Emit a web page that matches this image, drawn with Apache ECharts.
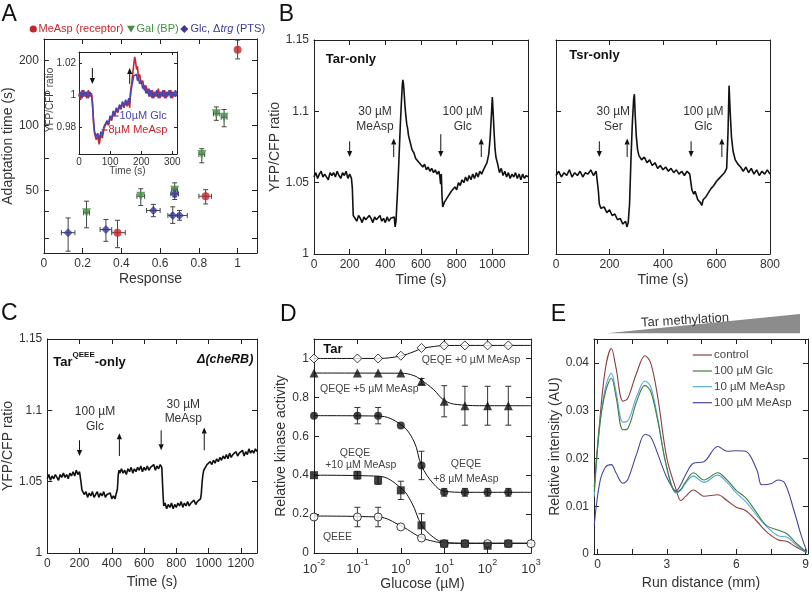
<!DOCTYPE html>
<html><head><meta charset="utf-8">
<script src="https://cdn.jsdelivr.net/npm/echarts@6.0.0/dist/echarts.min.js"></script>
<style>html,body{margin:0;padding:0;background:#fff}#c{width:812px;height:592px}</style>
</head><body><div id="c"></div><script>
// ---------------- Panel A : adaptation time vs response ----------------
const aRespTicks = [0, 0.2, 0.4, 0.6, 0.8, 1];
const aTimeTicks = [30, 40, 50, 70.7, 100, 141.4, 200];
const aTimeLabels = [50, 100, 200];

const aMeAspResp   = [1.0, 0.835, 0.38];
const aMeAspRespLo = [1.0, 0.80, 0.35];
const aMeAspRespHi = [1.0, 0.865, 0.42];
const aMeAspTime   = [224, 46.9, 31.8];
const aMeAspTimeLo = [203, 43.2, 27.1];
const aMeAspTimeHi = [248, 50.3, 36.3];

const aGalResp   = [0.22, 0.50, 0.675, 0.815, 0.89, 0.93];
const aGalRespLo = [0.205, 0.48, 0.66, 0.80, 0.875, 0.915];
const aGalRespHi = [0.235, 0.52, 0.69, 0.83, 0.905, 0.945];
const aGalTime   = [39.3, 46.9, 50.0, 73.2, 113, 108.9];
const aGalTimeLo = [33.5, 42.5, 46.6, 67, 105.4, 98.4];
const aGalTimeHi = [44.5, 50.8, 54.1, 77.9, 121.6, 118.3];

const aGlcResp   = [0.125, 0.32, 0.565, 0.675, 0.665, 0.70];
const aGlcRespLo = [0.09, 0.29, 0.53, 0.655, 0.64, 0.66];
const aGlcRespHi = [0.16, 0.35, 0.60, 0.695, 0.69, 0.74];
const aGlcTime   = [31.8, 32.9, 40.3, 48.1, 38.2, 38.2];
const aGlcTimeLo = [26.1, 29.0, 37.7, 45.3, 35.1, 36.3];
const aGlcTimeHi = [37.2, 36.6, 43.0, 50.8, 41.9, 40.3];

// inset traces
const insetTime = [0,5,10,15,20,25,30,35,40,43,47,50,55,60,65,70,75,80,85,90,95,100,105,110,115,120,125,130,135,140,145,150,155,160,163,166,170,173,176,179,182,185,188,191,195,200,205,210,215,220,225,230,235,240,245,250,255,260,265,270,275,280,285,290,295,300,305,310,315];
const insetMeAsp = [1.001,0.997,1.003,0.999,1.002,0.998,1.003,0.999,1.001,0.996,0.982,0.976,0.972,0.974,0.969,0.975,0.973,0.979,0.978,0.983,0.981,0.986,0.984,0.989,0.987,0.991,0.989,0.993,0.991,0.995,0.992,0.996,0.993,0.997,0.992,1.003,1.008,1.014,1.019,1.024,1.021,1.016,1.018,1.011,1.013,1.007,1.009,1.003,1.006,1.001,1.004,0.999,1.003,0.998,1.002,0.999,1.004,0.998,1.002,0.999,1.003,0.998,1.002,1.000,1.003,0.998,1.002,0.999,1.001];
const insetGlc = [0.999,1.002,0.998,1.003,0.999,1.002,0.998,1.002,1.000,0.995,0.983,0.977,0.974,0.976,0.972,0.977,0.975,0.980,0.979,0.984,0.982,0.987,0.985,0.990,0.988,0.992,0.990,0.994,0.992,0.996,0.993,0.997,0.994,0.998,0.995,1.001,1.006,1.009,1.012,1.013,1.011,1.013,1.009,1.011,1.007,1.009,1.004,1.006,1.001,1.004,0.999,1.003,0.998,1.002,0.999,1.003,0.998,1.002,0.999,1.003,0.998,1.002,0.999,1.003,0.998,1.002,0.999,1.003,1.000];

// ---------------- Panel B : Tar-only / Tsr-only traces ----------------
const tarOnly = [[0,1.054],[10,1.057],[20,1.053],[30,1.056],[40,1.058],[50,1.054],[60,1.056],[70,1.055],[80,1.052],[90,1.057],[100,1.055],[110,1.057],[120,1.054],[130,1.058],[140,1.055],[150,1.053],[160,1.057],[170,1.055],[180,1.058],[190,1.053],[200,1.056],[210,1.053],[215,1.046],[220,1.027],[230,1.026],[240,1.023],[250,1.027],[260,1.025],[270,1.022],[280,1.026],[290,1.024],[300,1.023],[310,1.027],[320,1.025],[330,1.022],[340,1.026],[350,1.024],[360,1.025],[370,1.027],[380,1.023],[390,1.025],[400,1.022],[410,1.026],[420,1.023],[430,1.025],[440,1.024],[450,1.026],[455,1.019],[460,1.023],[465,1.036],[470,1.048],[475,1.062],[480,1.078],[485,1.093],[490,1.106],[495,1.118],[498,1.122],[502,1.119],[506,1.112],[510,1.104],[515,1.097],[520,1.091],[525,1.088],[530,1.083],[540,1.078],[550,1.073],[560,1.071],[570,1.067],[580,1.068],[590,1.064],[600,1.065],[610,1.061],[620,1.063],[630,1.059],[640,1.061],[650,1.058],[660,1.060],[670,1.057],[680,1.059],[690,1.056],[700,1.058],[705,1.055],[710,1.049],[714,1.056],[718,1.040],[722,1.033],[730,1.036],[740,1.035],[750,1.040],[760,1.039],[770,1.044],[780,1.043],[790,1.047],[800,1.045],[810,1.050],[820,1.048],[830,1.052],[840,1.050],[850,1.054],[860,1.051],[870,1.055],[880,1.052],[890,1.056],[900,1.053],[910,1.057],[920,1.054],[930,1.058],[940,1.056],[950,1.059],[960,1.060],[970,1.064],[980,1.070],[988,1.082],[995,1.098],[1000,1.110],[1005,1.098],[1010,1.085],[1015,1.074],[1020,1.068],[1030,1.063],[1040,1.057],[1050,1.060],[1060,1.055],[1070,1.058],[1080,1.054],[1090,1.057],[1100,1.053],[1110,1.056],[1120,1.054],[1130,1.057],[1140,1.053],[1150,1.056],[1160,1.052],[1170,1.056],[1180,1.053],[1190,1.055],[1200,1.054]];
const tsrOnly = [[0,1.055],[10,1.058],[20,1.054],[30,1.057],[40,1.055],[50,1.059],[60,1.054],[70,1.057],[80,1.055],[90,1.058],[100,1.054],[110,1.057],[120,1.056],[130,1.059],[140,1.055],[150,1.058],[155,1.059],[158,1.045],[162,1.035],[168,1.032],[175,1.031],[180,1.033],[190,1.029],[200,1.031],[210,1.027],[220,1.028],[230,1.024],[240,1.025],[250,1.021],[260,1.023],[265,1.019],[270,1.022],[275,1.035],[280,1.065],[285,1.090],[290,1.108],[293,1.112],[296,1.098],[300,1.083],[305,1.073],[310,1.069],[320,1.066],[330,1.068],[340,1.064],[350,1.066],[360,1.062],[370,1.064],[380,1.060],[390,1.062],[400,1.059],[410,1.061],[420,1.058],[430,1.060],[440,1.057],[450,1.059],[460,1.056],[470,1.058],[480,1.055],[490,1.058],[500,1.056],[505,1.057],[508,1.045],[515,1.042],[520,1.044],[530,1.038],[540,1.036],[545,1.034],[550,1.038],[560,1.040],[570,1.043],[580,1.046],[590,1.048],[600,1.051],[610,1.053],[620,1.055],[630,1.057],[638,1.060],[643,1.085],[647,1.118],[651,1.100],[656,1.082],[662,1.072],[670,1.066],[680,1.063],[690,1.061],[700,1.058],[710,1.061],[720,1.057],[730,1.060],[740,1.056],[750,1.059],[760,1.055],[770,1.058],[780,1.056],[790,1.059],[800,1.056]];
// stimulus arrows: [time, ratio at tail, ratio at head]
const tarArrows = [[200,1.079,1.068],[447,1.068,1.081],[711,1.084,1.068],[938,1.068,1.081]];
const tsrArrows = [[162,1.079,1.068],[266,1.068,1.081],[505,1.079,1.068],[620,1.068,1.081]];

// ---------------- Panel C : Tar(QEEE)-only in cheRB ----------------
const tarQEEE = [[0,1.052],[10,1.055],[20,1.051],[30,1.054],[40,1.052],[50,1.055],[60,1.053],[70,1.051],[80,1.055],[90,1.053],[100,1.056],[110,1.053],[120,1.055],[130,1.052],[140,1.056],[150,1.054],[160,1.057],[170,1.054],[180,1.058],[190,1.055],[200,1.057],[205,1.056],[210,1.049],[215,1.044],[220,1.045],[230,1.041],[240,1.043],[250,1.039],[260,1.042],[270,1.040],[280,1.043],[290,1.039],[300,1.041],[310,1.043],[320,1.039],[330,1.042],[340,1.040],[350,1.043],[360,1.039],[370,1.041],[380,1.040],[390,1.042],[400,1.038],[410,1.040],[420,1.038],[430,1.039],[435,1.045],[440,1.055],[445,1.058],[450,1.056],[460,1.059],[470,1.056],[480,1.058],[490,1.055],[500,1.059],[510,1.057],[520,1.060],[530,1.056],[540,1.059],[550,1.057],[560,1.060],[570,1.058],[580,1.061],[590,1.057],[600,1.060],[610,1.058],[620,1.061],[630,1.058],[640,1.060],[650,1.059],[660,1.062],[670,1.058],[680,1.061],[690,1.059],[700,1.062],[710,1.060],[715,1.061],[718,1.040],[722,1.033],[730,1.035],[740,1.031],[750,1.034],[760,1.032],[770,1.035],[780,1.031],[790,1.034],[800,1.032],[810,1.035],[820,1.033],[830,1.036],[840,1.032],[850,1.035],[860,1.033],[870,1.036],[880,1.033],[890,1.035],[900,1.034],[910,1.037],[920,1.034],[930,1.036],[940,1.035],[950,1.038],[955,1.042],[960,1.050],[965,1.055],[970,1.058],[980,1.060],[990,1.062],[1000,1.061],[1010,1.064],[1020,1.062],[1030,1.065],[1040,1.063],[1050,1.066],[1060,1.064],[1070,1.067],[1080,1.065],[1090,1.068],[1100,1.066],[1110,1.069],[1120,1.066],[1130,1.070],[1140,1.067],[1150,1.069],[1160,1.068],[1170,1.071],[1180,1.068],[1190,1.070],[1200,1.069],[1210,1.072],[1220,1.068],[1230,1.071],[1240,1.069],[1250,1.073],[1260,1.070],[1270,1.072],[1280,1.070],[1290,1.073],[1300,1.071]];
const cArrows = [[200,1.079,1.068],[447,1.068,1.084],[706,1.086,1.072],[973,1.072,1.088]];

// ---------------- Panel D : dose response ----------------
const glucose = [0.01, 0.1, 0.3, 1, 3, 10, 30, 100, 300];
const glucoseQEEE = [0.01, 0.1, 0.3, 1, 3, 10, 30, 100, 300, 1000];
const dTar0 = [1.0, 1.0, 1.0, 1.014, 1.054, 1.067, 1.067, 1.067, 1.067];
const dQEQE5 = [0.925, 0.925, 0.925, 0.925, 0.882, 0.78, 0.757, 0.757, 0.757];
const dQEQE5Err = [0, 0, 0, 0, 0.015, 0.08, 0.1, 0.1, 0.1];
const dQEQE8 = [0.706, 0.706, 0.706, 0.656, 0.45, 0.312, 0.312, 0.312, 0.312];
const dQEQE8Err = [0, 0.042, 0.042, 0, 0.073, 0.02, 0.02, 0.02, 0.02];
const dQEQE10 = [0.40, 0.40, 0.373, 0.322, 0.142, 0.048, 0.048, 0.037, 0.048];
const dQEQE10Err = [0, 0.02, 0.02, 0.047, 0.06, 0, 0, 0, 0];
const dQEEE = [0.185, 0.185, 0.185, 0.134, 0.077, 0.048, 0.048, 0.048, 0.048, 0.048];
const dQEEEErr = [0, 0.05, 0.05, 0, 0, 0, 0, 0, 0, 0];
// fitted curves
const dFitTar0 = [[0.01,1.0],[0.3,1.0],[1,1.013],[2,1.035],[3,1.05],[6,1.062],[10,1.066],[30,1.067],[1000,1.067]];
const dFit5 = [[0.01,0.925],[1,0.924],[2,0.912],[3,0.888],[5.7,0.84],[10,0.785],[20,0.763],[100,0.757],[1000,0.757]];
const dFit8 = [[0.01,0.706],[0.3,0.704],[1,0.66],[2,0.575],[3,0.45],[5.7,0.355],[10,0.318],[30,0.312],[1000,0.312]];
const dFit10 = [[0.01,0.40],[0.3,0.395],[1,0.335],[1.8,0.257],[3,0.145],[5.7,0.08],[10,0.055],[30,0.05],[1000,0.05]];
const dFitQEEE = [[0.01,0.19],[0.3,0.185],[1,0.14],[2,0.1],[3,0.078],[5.7,0.06],[10,0.052],[30,0.05],[1000,0.05]];

// ---------------- Panel E : methylation profiles ----------------
const eControl = [[-0.14,0.014],[0.1,0.028],[0.35,0.039],[0.6,0.043],[0.8,0.039],[1.1,0.032],[1.3,0.0325],[1.7,0.038],[2.05,0.0415],[2.3,0.040],[2.6,0.033],[3.0,0.020],[3.4,0.0135],[3.6,0.0112],[3.8,0.012],[4.15,0.0134],[4.6,0.0121],[5.2,0.0124],[5.6,0.0112],[6.0,0.0098],[6.4,0.0091],[6.9,0.0068],[7.3,0.0047],[7.8,0.003],[8.2,0.0026],[8.6,0.0014],[9.05,0.0003]];
const eGlc100 = [[-0.14,0.013],[0.1,0.027],[0.35,0.034],[0.6,0.0368],[0.8,0.033],[1.1,0.026],[1.3,0.0262],[1.7,0.032],[2.05,0.0353],[2.3,0.034],[2.6,0.028],[3.0,0.018],[3.4,0.013],[3.6,0.0135],[3.8,0.015],[4.15,0.017],[4.6,0.0155],[5.2,0.017],[5.6,0.0155],[6.0,0.0133],[6.4,0.0118],[6.9,0.0085],[7.3,0.006],[7.8,0.005],[8.2,0.0042],[8.6,0.0022],[9.05,0.0004]];
const eMeAsp10 = [[-0.14,0.012],[0.1,0.027],[0.35,0.035],[0.6,0.0378],[0.8,0.034],[1.1,0.0276],[1.3,0.0278],[1.7,0.033],[2.05,0.0362],[2.3,0.035],[2.6,0.0285],[3.0,0.018],[3.4,0.0128],[3.6,0.0133],[3.8,0.0148],[4.15,0.0163],[4.6,0.015],[5.2,0.0165],[5.6,0.015],[6.0,0.0128],[6.4,0.011],[6.9,0.008],[7.3,0.0058],[7.8,0.0038],[8.2,0.0035],[8.6,0.0018],[9.05,0.0003]];
const eMeAsp100 = [[-0.14,0.006],[0.1,0.015],[0.35,0.0182],[0.6,0.0187],[0.8,0.017],[1.1,0.0148],[1.3,0.0155],[1.7,0.021],[2.05,0.025],[2.3,0.0245],[2.6,0.021],[3.0,0.016],[3.4,0.0132],[3.6,0.0145],[3.8,0.0165],[4.15,0.019],[4.6,0.0193],[5.2,0.0225],[5.6,0.0215],[6.0,0.0216],[6.4,0.0215],[6.9,0.0175],[7.1,0.0145],[7.5,0.0147],[7.8,0.0155],[8.1,0.0148],[8.5,0.009],[8.8,0.004],[9.05,0.0005]];

// ======================= build =======================
const FONT = '"Liberation Sans", Arial, sans-serif';
const RED = '#c3262c', GREEN = '#3f8f3f', BLUE = '#3a3a9c';
const grids = [], xAxes = [], yAxes = [], series = [], graphics = [];

function axis(g, pos, c, main) {
  const a = {
    type: c.type || 'value', gridIndex: g, position: pos, min: c.min, max: c.max,
    axisLine: {show: true, onZero: false, lineStyle: {color: '#222', width: 1}},
    axisTick: {show: true, inside: true, length: c.tickLen || 5, lineStyle: {color: '#222', width: 1}},
    axisLabel: {show: false},
    splitLine: {show: false}, splitArea: {show: false}, silent: true
  };
  if (c.type === 'log') { a.logBase = 10; a.splitNumber = c.splitNumber || 5; }
  if (c.ticks) a.axisTick.customValues = c.ticks;
  if (main && (c.labels || c.type === 'log')) {
    a.axisLabel = {show: true, formatter: c.fmt, fontSize: c.fs || 12, color: '#333', fontFamily: FONT,
                   margin: c.margin == null ? 5 : c.margin, hideOverlap: false};
    if (c.labels) a.axisLabel.customValues = c.labels;
    if (c.rich) a.axisLabel.rich = c.rich;
  }
  if (main && c.name) {
    a.name = c.name; a.nameLocation = 'middle'; a.nameGap = c.nameGap;
    a.nameTextStyle = {fontSize: c.nameSize || 14, color: '#333', fontFamily: FONT};
  }
  return a;
}
function panel(grid, xc, yc) {
  const g = grids.length;
  grids.push(Object.assign({containLabel: false}, grid));
  xAxes.push(axis(g, 'bottom', xc, true), axis(g, 'top', xc, false));
  yAxes.push(axis(g, 'left', yc, true), axis(g, 'right', yc, false));
  return g;
}
const on = g => ({xAxisIndex: 2 * g, yAxisIndex: 2 * g});
function lineS(g, data, color, width, extra) {
  series.push(Object.assign({type: 'line', data, showSymbol: false, symbol: 'none', silent: true,
    lineStyle: {color, width}, z: 2, animation: false}, on(g), extra || {}));
}
function scatterS(g, data, symbol, size, itemStyle, extra) {
  series.push(Object.assign({type: 'scatter', data, symbol, symbolSize: size, itemStyle, silent: true,
    z: 5, animation: false}, on(g), extra || {}));
}
function errS(g, data, color, cap) {
  series.push(Object.assign({type: 'custom', data, silent: true, z: 3, animation: false, encode: {x: 0, y: 1},
    renderItem: (params, api) => {
      const x = api.value(0), y = api.value(1), xl = api.value(2), xh = api.value(3), yl = api.value(4), yh = api.value(5);
      const st = {stroke: color, lineWidth: 1}, ch = [];
      if (yh > yl) {
        const a = api.coord([x, yl]), b = api.coord([x, yh]);
        ch.push({type: 'line', shape: {x1: a[0], y1: a[1], x2: b[0], y2: b[1]}, style: st});
        ch.push({type: 'line', shape: {x1: a[0] - cap, y1: a[1], x2: a[0] + cap, y2: a[1]}, style: st});
        ch.push({type: 'line', shape: {x1: b[0] - cap, y1: b[1], x2: b[0] + cap, y2: b[1]}, style: st});
      }
      if (xh > xl) {
        const a = api.coord([xl, y]), b = api.coord([xh, y]);
        ch.push({type: 'line', shape: {x1: a[0], y1: a[1], x2: b[0], y2: b[1]}, style: st});
        ch.push({type: 'line', shape: {x1: a[0], y1: a[1] - cap, x2: a[0], y2: a[1] + cap}, style: st});
        ch.push({type: 'line', shape: {x1: b[0], y1: b[1] - cap, x2: b[0], y2: b[1] + cap}, style: st});
      }
      return {type: 'group', children: ch};
    }}, on(g)));
}
function arrowS(g, data, color) {
  series.push(Object.assign({type: 'custom', data, silent: true, z: 6, animation: false, encode: {x: 0, y: 1},
    renderItem: (params, api) => {
      const p0 = api.coord([api.value(0), api.value(1)]), p1 = api.coord([api.value(0), api.value(2)]);
      const d = p1[1] > p0[1] ? 1 : -1, hl = 6, hw = 2.6;
      return {type: 'group', children: [
        {type: 'line', shape: {x1: p0[0], y1: p0[1], x2: p1[0], y2: p1[1] - d * hl}, style: {stroke: color, lineWidth: 1}},
        {type: 'polygon', shape: {points: [[p1[0] - hw, p1[1] - d * hl], [p1[0] + hw, p1[1] - d * hl], [p1[0], p1[1]]]}, style: {fill: color}}
      ]};
    }}, on(g)));
}
function T(x, y, text, o) {
  o = o || {};
  graphics.push({type: 'text', x, y, rotation: o.rot || 0, silent: true, z: 100,
    style: Object.assign({text, fill: o.color || '#333', fontSize: o.fs || 12, fontFamily: FONT,
      fontWeight: o.bold ? 'bold' : 'normal', align: o.align || 'left', verticalAlign: 'middle',
      lineHeight: o.lh, rich: o.rich}, o.style || {})});
}
const zip = (xs, ys) => xs.map((x, i) => [x, ys[i]]);
const lg = Math.log10;
const fmt2 = v => (+v.toFixed(3)).toString();

// ---- Panel A main ----
const gA = panel({left: 41, top: 39, width: 216, height: 214},
  {min: 0, max: 1.1, ticks: aRespTicks, labels: aRespTicks, fmt: fmt2, name: 'Response', nameGap: 19},
  {min: lg(25.6), max: lg(251), ticks: aTimeTicks.map(lg), labels: aTimeLabels.map(lg),
   fmt: v => String(Math.round(Math.pow(10, v))), name: 'Adaptation time (s)', nameGap: 22});
function aErr(rx, rlo, rhi, t, tlo, thi) { return rx.map((x, i) => [x, lg(t[i]), rlo[i], rhi[i], lg(tlo[i]), lg(thi[i])]); }
errS(gA, aErr(aMeAspResp, aMeAspRespLo, aMeAspRespHi, aMeAspTime, aMeAspTimeLo, aMeAspTimeHi), '#444', 2.5);
errS(gA, aErr(aGalResp, aGalRespLo, aGalRespHi, aGalTime, aGalTimeLo, aGalTimeHi), '#444', 2.5);
errS(gA, aErr(aGlcResp, aGlcRespLo, aGlcRespHi, aGlcTime, aGlcTimeLo, aGlcTimeHi), '#444', 2.5);
scatterS(gA, zip(aMeAspResp, aMeAspTime.map(lg)), 'circle', 8, {color: RED});
scatterS(gA, zip(aGalResp, aGalTime.map(lg)), 'triangle', 9, {color: GREEN}, {symbolRotate: 180});
scatterS(gA, zip(aGlcResp, aGlcTime.map(lg)), 'diamond', 9, {color: BLUE});

// ---- Panel A inset ----
const gI = panel({left: 79, top: 52, width: 98, height: 102, show: true, backgroundColor: '#fff', borderWidth: 0},
  {min: 0, max: 315, ticks: [100, 200, 300], labels: [0, 100, 200, 300], fmt: v => String(v), fs: 10, margin: 3, tickLen: 3},
  {min: 0.963, max: 1.027, ticks: [0.98, 1, 1.02], labels: [0.98, 1, 1.02], fmt: fmt2, fs: 10, margin: 3, tickLen: 3});
lineS(gI, zip(insetTime, insetMeAsp), RED, 1.6);
lineS(gI, zip(insetTime, insetGlc), '#4a46b0', 1.6);
arrowS(gI, [[43, 1.017, 1.007], [163, 1.007, 1.017]], '#111');

// ---- Panel B Tar-only ----
const bTicks = [1, 1.05, 1.1, 1.15];
const gB1 = panel({left: 314, top: 40, width: 214, height: 214},
  {min: 0, max: 1200, ticks: [200, 400, 600, 800, 1000], labels: [0, 200, 400, 600, 800, 1000], fmt: v => String(v), name: 'Time (s)', nameGap: 19},
  {min: 1, max: 1.15, ticks: [1.05, 1.1], labels: bTicks, fmt: fmt2, name: 'YFP/CFP ratio', nameGap: 22});
lineS(gB1, tarOnly, '#111', 1.6);
arrowS(gB1, tarArrows, '#111');
// ---- Panel B Tsr-only ----
const gB2 = panel({left: 556, top: 40, width: 214, height: 214},
  {min: 0, max: 800, ticks: [200, 400, 600], labels: [0, 200, 400, 600, 800], fmt: v => String(v), name: 'Time (s)', nameGap: 19},
  {min: 1, max: 1.15, ticks: [1.05, 1.1]});
lineS(gB2, tsrOnly, '#111', 1.6);
arrowS(gB2, tsrArrows, '#111');

// ---- Panel C ----
const gC = panel({left: 42, top: 339, width: 215, height: 214},
  {min: 0, max: 1300, ticks: [200, 400, 600, 800, 1000, 1200], labels: [0, 200, 400, 600, 800, 1000, 1200], fmt: v => String(v), name: 'Time (s)', nameGap: 22},
  {min: 1, max: 1.15, ticks: [1.05, 1.1], labels: bTicks, fmt: fmt2, name: 'YFP/CFP ratio', nameGap: 25});
lineS(gC, tarQEEE, '#111', 1.6);
arrowS(gC, cArrows, '#111');

// ---- Panel D ----
const gD = panel({left: 314, top: 339, width: 217, height: 214},
  {type: 'log', min: 0.01, max: 1000, splitNumber: 5, fmt: v => '{b|10}{s|' + Math.round(lg(v)) + '}',
   rich: {b: {fontSize: 13, color: '#333', fontFamily: FONT, lineHeight: 18, verticalAlign: 'bottom'},
          s: {fontSize: 9, color: '#333', fontFamily: FONT, lineHeight: 18, verticalAlign: 'top'}},
   margin: 5, name: 'Glucose (µM)', nameGap: 24},
  {min: 0, max: 1.1, ticks: [0.2, 0.4, 0.6, 0.8, 1], labels: [0, 0.2, 0.4, 0.6, 0.8, 1], fmt: fmt2, name: 'Relative kinase activity', nameGap: 22});
const dErr = (xs, ys, es) => xs.map((x, i) => [x, ys[i], x, x, ys[i] - es[i], ys[i] + es[i]]);
lineS(gD, dFitTar0, '#111', 1, {smooth: 0.4});
lineS(gD, dFit5, '#111', 1, {smooth: 0.4});
lineS(gD, dFit8, '#111', 1, {smooth: 0.4});
lineS(gD, dFit10, '#111', 1, {smooth: 0.4});
lineS(gD, dFitQEEE, '#111', 1, {smooth: 0.4});
errS(gD, dErr(glucose, dQEQE5, dQEQE5Err), '#333', 3);
errS(gD, dErr(glucose, dQEQE8, dQEQE8Err), '#333', 3);
errS(gD, dErr(glucose, dQEQE10, dQEQE10Err), '#333', 3);
errS(gD, dErr(glucoseQEEE, dQEEE, dQEEEErr), '#333', 3);
const openSt = {color: '#fff', borderColor: '#111', borderWidth: 1};
scatterS(gD, zip(glucose, dTar0), 'diamond', 9, openSt);
scatterS(gD, zip(glucose, dQEQE5), 'triangle', 9, {color: '#111'});
scatterS(gD, zip(glucose, dQEQE8), 'circle', 8, {color: '#111'});
scatterS(gD, zip(glucoseQEEE, dQEEE), 'circle', 8, openSt);
scatterS(gD, zip(glucose, dQEQE10), 'rect', 8, {color: '#111'});

// ---- Panel E ----
const gE = panel({left: 594, top: 339, width: 215, height: 215},
  {min: -0.15, max: 9.1, ticks: [0, 1.5, 3, 4.5, 6, 7.5, 9], labels: [0, 3, 6, 9], fmt: v => String(v), name: 'Run distance (mm)', nameGap: 22},
  {min: 0, max: 0.045, ticks: [0.01, 0.02, 0.03, 0.04], labels: [0, 0.01, 0.02, 0.03, 0.04], fmt: fmt2, name: 'Relative intensity (AU)', nameGap: 27});
const E_COL = {control: '#8a3f3f', glc: '#3f7f3f', me10: '#58a8dc', me100: '#45459a'};
lineS(gE, eMeAsp100, E_COL.me100, 1.1, {smooth: 0.35});
lineS(gE, eControl, E_COL.control, 1.1, {smooth: 0.35});
lineS(gE, eMeAsp10, E_COL.me10, 1.1, {smooth: 0.35});
lineS(gE, eGlc100, E_COL.glc, 1.1, {smooth: 0.35});

// ---------------- annotations ----------------
T(9.2, 14.7, 'A', {fs: 23, color: '#111', align: 'center'});
T(286.5, 14.7, 'B', {fs: 23, color: '#111', align: 'center'});
T(9.2, 314, 'C', {fs: 23, color: '#111', align: 'center'});
T(288.3, 315, 'D', {fs: 23, color: '#111', align: 'center'});
T(558.3, 315, 'E', {fs: 23, color: '#111', align: 'center'});
// A legend
graphics.push({type: 'circle', shape: {cx: 33.3, cy: 29, r: 3.6}, style: {fill: RED}, silent: true});
T(38.5, 29, 'MeAsp (receptor)', {fs: 11, color: RED});
graphics.push({type: 'polygon', shape: {points: [[127, 25.8], [135, 25.8], [131, 32.5]]}, style: {fill: GREEN}, silent: true});
T(136.5, 29, 'Gal (BP)', {fs: 11, color: GREEN});
graphics.push({type: 'polygon', shape: {points: [[184.3, 25], [188.3, 29], [184.3, 33], [180.3, 29]]}, style: {fill: BLUE}, silent: true});
T(190.5, 29, 'Glc, Δ{i|trg} (PTS)', {fs: 11, color: BLUE, rich: {i: {fontStyle: 'italic', fontSize: 11, fill: BLUE, fontFamily: FONT}}});
// inset legend & titles
graphics.push({type: 'line', shape: {x1: 112.5, y1: 116, x2: 118.5, y2: 116}, style: {stroke: '#4a46b0', lineWidth: 1.2}, silent: true});
T(119.5, 116, '10µM Glc', {fs: 11, color: '#4a46b0'});
graphics.push({type: 'line', shape: {x1: 101.5, y1: 130, x2: 107.5, y2: 130}, style: {stroke: RED, lineWidth: 1.2}, silent: true});
T(108.5, 130, '8µM MeAsp', {fs: 11, color: RED});
T(127.5, 171, 'Time (s)', {fs: 10, color: '#444', align: 'center'});
T(50, 100, 'YFP/CFP ratio', {fs: 10, color: '#444', align: 'center', rot: Math.PI / 2});
// B annotations
T(325.7, 59, 'Tar-only', {fs: 13, bold: true, color: '#111'});
T(569.3, 55, 'Tsr-only', {fs: 13, bold: true, color: '#111'});
T(375, 119.2, '30 µM\nMeAsp', {fs: 12, align: 'center', lh: 15});
T(462.7, 119.2, '100 µM\nGlc', {fs: 12, align: 'center', lh: 15});
T(613.3, 119.2, '30 µM\nSer', {fs: 12, align: 'center', lh: 15});
T(703.3, 119.2, '100 µM\nGlc', {fs: 12, align: 'center', lh: 15});
// C annotations
T(53.3, 360, '{b|Tar}{s|QEEE}{b|-only}', {rich: {
  b: {fontSize: 13, fontWeight: 'bold', fill: '#111', fontFamily: FONT, lineHeight: 18, verticalAlign: 'bottom'},
  s: {fontSize: 8, fontWeight: 'bold', fill: '#111', fontFamily: FONT, lineHeight: 18, verticalAlign: 'top'}}});
T(253.3, 360, '{n|Δ(}{b|cheRB}{n|)}', {align: 'right', rich: {
  n: {fontSize: 12.5, fill: '#111', fontFamily: FONT, fontStyle: 'italic', fontWeight: 'bold'},
  b: {fontSize: 12.5, fill: '#111', fontFamily: FONT, fontStyle: 'italic', fontWeight: 'bold'}}});
T(95, 419, '100 µM\nGlc', {fs: 12, align: 'center', lh: 15});
T(183.3, 411.7, '30 µM\nMeAsp', {fs: 12, align: 'center', lh: 13.5});
// D annotations
T(323.3, 349.3, 'Tar', {fs: 13, bold: true, color: '#111'});
T(421.7, 360, 'QEQE +0 µM MeAsp', {fs: 10.5, color: '#444'});
T(320, 389.3, 'QEQE +5 µM MeAsp', {fs: 10.5, color: '#444'});
T(355, 453.3, 'QEQE', {fs: 10.5, color: '#444', align: 'center'});
T(360.8, 465.5, '+10 µM MeAsp', {fs: 10.5, color: '#444', align: 'center'});
T(466, 464.3, 'QEQE', {fs: 10.5, color: '#444', align: 'center'});
T(466, 479, '+8 µM MeAsp', {fs: 10.5, color: '#444', align: 'center'});
T(337.5, 536.7, 'QEEE', {fs: 10.5, color: '#444', align: 'center'});
// E annotations
graphics.push({type: 'polygon', shape: {points: [[606.7, 333.3], [800, 314], [800, 333.3]]}, style: {fill: '#8c8c8c'}, silent: true});
T(685, 320.5, 'Tar methylation', {fs: 13, color: '#333', align: 'center', rot: 0.06});
const eLeg = [['control', E_COL.control, 355], ['100 µM Glc', E_COL.glc, 371], ['10 µM MeAsp', E_COL.me10, 386.7], ['100 µM MeAsp', E_COL.me100, 402.7]];
eLeg.forEach(([t, c, y]) => {
  graphics.push({type: 'line', shape: {x1: 692.7, y1: y, x2: 712, y2: y}, style: {stroke: c, lineWidth: 1.2}, silent: true});
  T(714, y, t, {fs: 11.5, color: '#444'});
});

const chart = echarts.init(document.getElementById('c'), null, {renderer: 'canvas', width: 812, height: 592});
chart.setOption({
  animation: false, backgroundColor: '#fff',
  grid: grids, xAxis: xAxes, yAxis: yAxes, series, graphic: {elements: graphics}
});
</script></body></html>
